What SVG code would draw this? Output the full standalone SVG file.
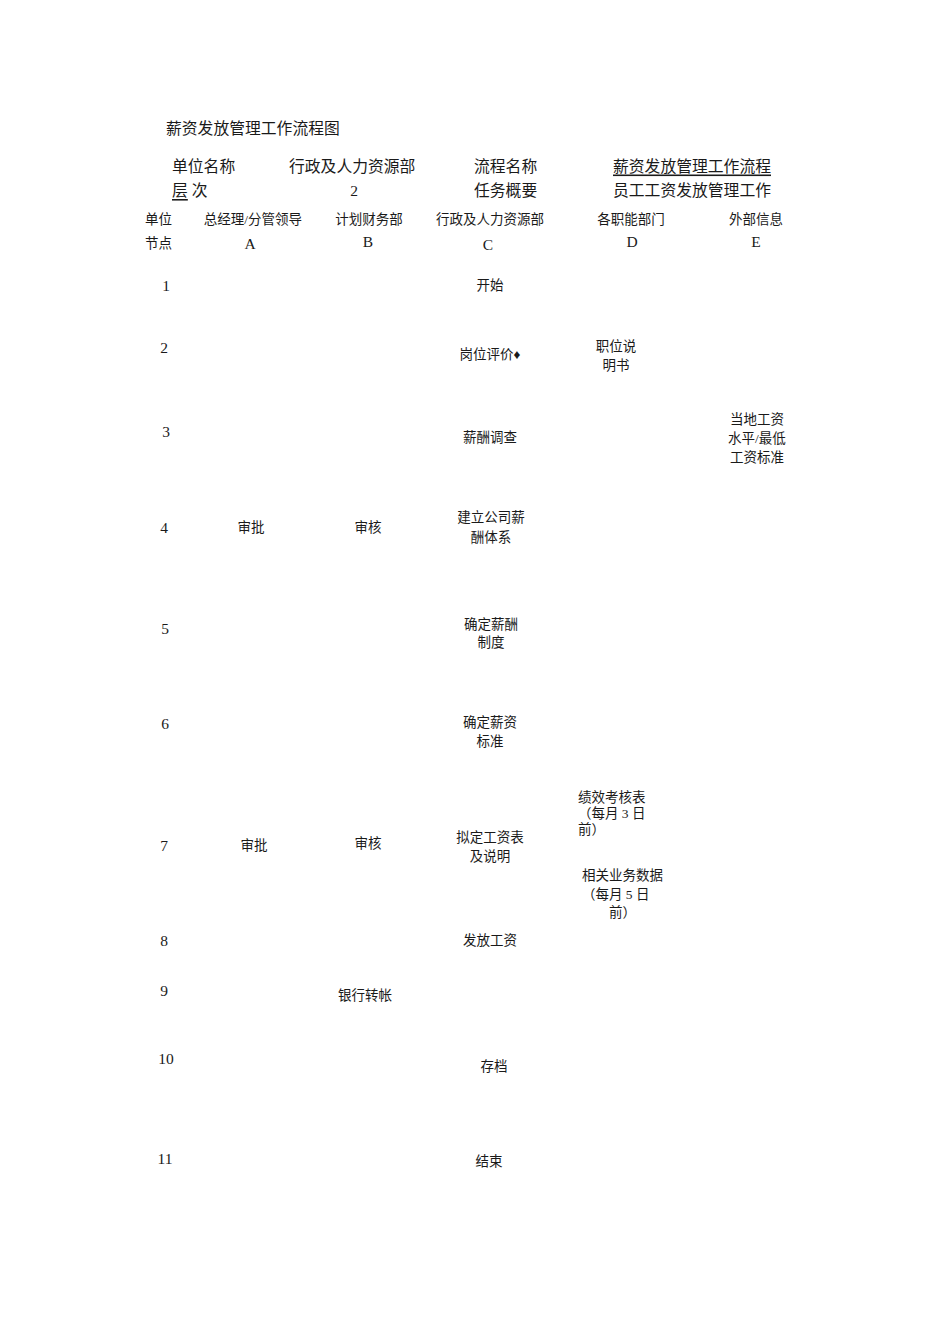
<svg xmlns="http://www.w3.org/2000/svg" width="950" height="1344" viewBox="0 0 950 1344">
<style>
text{font-family:"Liberation Serif","Noto Sans CJK SC",serif;fill:#1a1a1a;dominant-baseline:central}
.h{font-size:15.8px}
.c{font-size:13.5px}
.n{font-size:15.5px}
.m{text-anchor:middle}
.u{text-decoration:underline}
</style>
<rect width="950" height="1344" fill="#ffffff"/>
<g id="header">
<text class="h" x="166" y="128">薪资发放管理工作流程图</text>
<text class="h" x="172" y="166">单位名称</text>
<text class="h" x="289" y="166">行政及人力资源部</text>
<text class="h" x="474" y="166">流程名称</text>
<text class="h u" x="613" y="166">薪资发放管理工作流程</text>
<text class="h" x="172" y="190"><tspan class="u">层</tspan> 次</text>
<text class="n m" x="354" y="190">2</text>
<text class="h" x="474" y="190">任务概要</text>
<text class="h" x="613" y="190">员工工资发放管理工作</text>
</g>
<g id="columns">
<text class="c" x="145" y="219">单位</text>
<text class="c" x="145" y="243">节点</text>
<text class="c m" x="253" y="219">总经理/分管领导</text>
<text class="c m" x="369" y="219">计划财务部</text>
<text class="c m" x="490" y="219">行政及人力资源部</text>
<text class="c m" x="631" y="219">各职能部门</text>
<text class="c m" x="756" y="219">外部信息</text>
<text class="n m" x="250" y="243">A</text>
<text class="n m" x="368" y="241">B</text>
<text class="n m" x="488" y="244">C</text>
<text class="n m" x="632" y="241">D</text>
<text class="n m" x="756" y="241">E</text>
</g>
<g id="rownums">
<text class="n m" x="166" y="285">1</text>
<text class="n m" x="164" y="347">2</text>
<text class="n m" x="166" y="431">3</text>
<text class="n m" x="164" y="527">4</text>
<text class="n m" x="165" y="628">5</text>
<text class="n m" x="165" y="723">6</text>
<text class="n m" x="164" y="845">7</text>
<text class="n m" x="164" y="940">8</text>
<text class="n m" x="164" y="990">9</text>
<text class="n m" x="166" y="1058">10</text>
<text class="n m" x="165" y="1158">11</text>
</g>
<g id="connectors"></g>
<g id="n-start"><text class="c m" x="490" y="285">开始</text></g>
<g id="n-eval"><text class="c m" x="490" y="354">岗位评价♦</text></g>
<g id="n-jobdesc"><text class="c m" x="616" y="346">职位说</text><text class="c m" x="616" y="365">明书</text></g>
<g id="n-survey"><text class="c m" x="490" y="437">薪酬调查</text></g>
<g id="n-local"><text class="c m" x="757" y="419">当地工资</text><text class="c m" x="757" y="438">水平/最低</text><text class="c m" x="757" y="457">工资标准</text></g>
<g id="n-approve4"><text class="c m" x="251" y="527">审批</text></g>
<g id="n-review4"><text class="c m" x="368" y="527">审核</text></g>
<g id="n-system"><text class="c m" x="491" y="517">建立公司薪</text><text class="c m" x="491" y="537">酬体系</text></g>
<g id="n-policy"><text class="c m" x="491" y="624">确定薪酬</text><text class="c m" x="491" y="642">制度</text></g>
<g id="n-standard"><text class="c m" x="490" y="722">确定薪资</text><text class="c m" x="490" y="741">标准</text></g>
<g id="n-approve7"><text class="c m" x="254" y="845">审批</text></g>
<g id="n-review7"><text class="c m" x="368" y="843">审核</text></g>
<g id="n-draft"><text class="c m" x="490" y="837">拟定工资表</text><text class="c m" x="490" y="856">及说明</text></g>
<g id="n-perf"><text class="c" x="578" y="797">绩效考核表</text><text class="c" x="578" y="813">（每月 3 日</text><text class="c" x="578" y="829">前）</text></g>
<g id="n-data"><text class="c" x="582" y="875">相关业务数据</text><text class="c" x="582" y="894">（每月 5 日</text><text class="c" x="609" y="912">前）</text></g>
<g id="n-pay"><text class="c m" x="490" y="940">发放工资</text></g>
<g id="n-bank"><text class="c m" x="365" y="995">银行转帐</text></g>
<g id="n-archive"><text class="c m" x="494" y="1066">存档</text></g>
<g id="n-end"><text class="c m" x="489" y="1161">结束</text></g>
</svg>
